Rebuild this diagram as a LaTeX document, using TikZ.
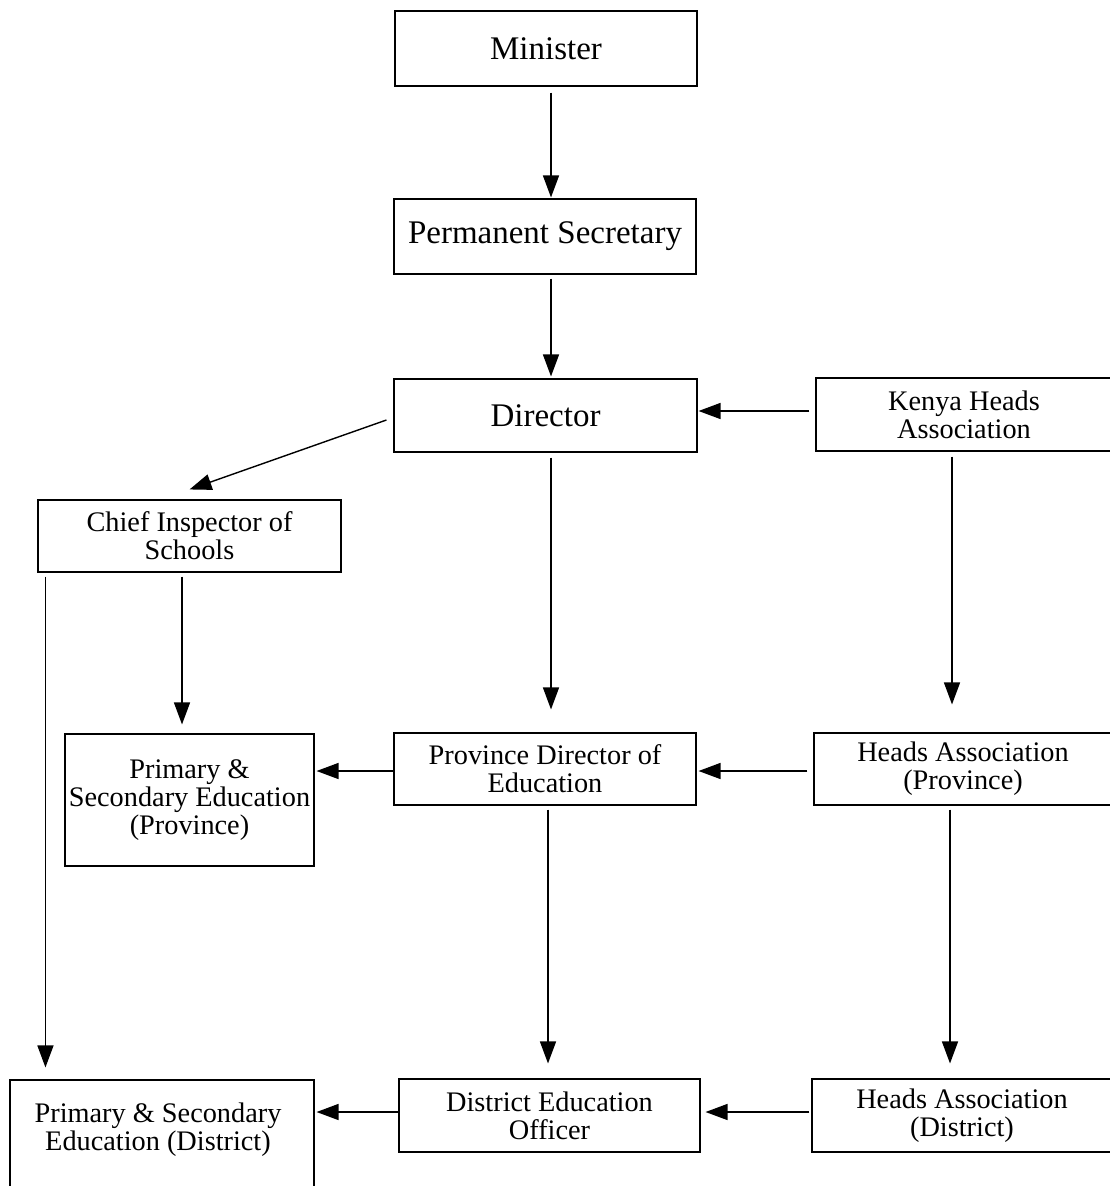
\documentclass[tikz,border=0pt]{standalone}
\usepackage{fontspec}
\setmainfont{Liberation Serif}
\usetikzlibrary{arrows.meta}
\begin{document}
\begin{tikzpicture}[x=1pt,y=-1pt,
  box/.style={draw, line width=1.1pt, inner sep=0pt, align=center},
  big/.style={font=\fontsize{33}{36}\selectfont},
  small/.style={font=\fontsize{28.3}{28}\selectfont},
  arr/.style={line width=1.4pt, -{Triangle[length=22pt,width=16pt]}}]
\useasboundingbox (0,0) rectangle (1110,1186);
% top chain
\node[box,big,minimum width=302,minimum height=75] (min) at (546,48.5) {Minister};
\node[box,big,minimum width=302,minimum height=75] (ps) at (545,236.5) {Permanent Secretary};
\node[box,big,minimum width=303,minimum height=73] (dir) at (545.5,415.5) {Director};
\node[box,small,minimum width=296,minimum height=73] (kha) at (964,414.5) {Kenya Heads\\Association};
% second level
\node[box,small,minimum width=303,minimum height=72] (cis) at (189.5,536) {Chief Inspector of\\Schools};
\node[box,small,minimum width=249,minimum height=132] (psp) at (189.5,800) {Primary \&\\Secondary Education\\(Province)};
\node[box,small,minimum width=302,minimum height=72] (pde) at (545,769) {Province Director of\\Education};
\node[box,small,minimum width=298,minimum height=72] (hap) at (963,769) {Heads Association\\(Province)};
% district level (the left box runs past the lower edge)
\node[box,minimum width=304,minimum height=124] (psd) at (162,1142) {};
\node[small,align=center,inner sep=0pt] (psdtext) at ([shift={(-4pt,12pt)}]psd.center) {Primary \& Secondary\\Education (District)};
\node[box,small,minimum width=301,minimum height=73] (deo) at (549.5,1115.5) {District Education\\Officer};
\node[box,small,minimum width=300,minimum height=73] (had) at (962,1115.5) {Heads Association\\(District)};
% start points of the horizontal links
\coordinate (pdeW) at ([yshift=-2pt]pde.west);
\coordinate (hapW) at ([yshift=-2pt]hap.west);
\coordinate (deoW) at ([yshift=3.5pt]deo.west);
\coordinate (hadW) at ([yshift=3.5pt]had.west);
% connectors
\draw[arr, shorten <=6pt, shorten >=1pt] ([xshift=5pt]min.south) -- ([xshift=6pt]ps.north);
\draw[arr, shorten <=4pt, shorten >=2pt] ([xshift=6pt]ps.south) -- ([xshift=5.5pt]dir.north);
\draw[arr, shorten <=6pt, shorten >=1pt] ([yshift=3.5pt]kha.west) -- ([yshift=4.5pt]dir.east);
\draw[arr] ([shift={(-7pt,-4.5pt)}]dir.west) -- ([yshift=10pt]cis.north);
\draw[arr, shorten <=5pt, shorten >=23pt] ([xshift=5.5pt]dir.south) -- ([xshift=6pt]pde.north);
\draw[arr, shorten <=5pt, shorten >=28pt] ([xshift=-12pt]kha.south) -- ([xshift=-11pt]hap.north);
\draw[arr, shorten <=4pt, shorten >=9pt] ([xshift=-7.5pt]cis.south) -- ([xshift=-7.5pt]psp.north);
\draw[arr, shorten <=4pt, shorten >=12pt] ([xshift=8pt]cis.south west) -- ([xshift=36pt]psd.north west);
\draw[arr, shorten >=2pt] (pdeW) -- (psp.east |- pdeW);
\draw[arr, shorten <=6pt, shorten >=2pt] (hapW) -- (pde.east |- hapW);
\draw[arr, shorten <=4pt, shorten >=15pt] ([xshift=3pt]pde.south) -- ([xshift=-1.5pt]deo.north);
\draw[arr, shorten <=4pt, shorten >=15pt] ([xshift=-13pt]hap.south) -- ([xshift=-12pt]had.north);
\draw[arr, shorten >=2pt] (deoW) -- (psd.east |- deoW);
\draw[arr, shorten <=2pt, shorten >=5pt] (hadW) -- (deo.east |- hadW);
\end{tikzpicture}
\end{document}
